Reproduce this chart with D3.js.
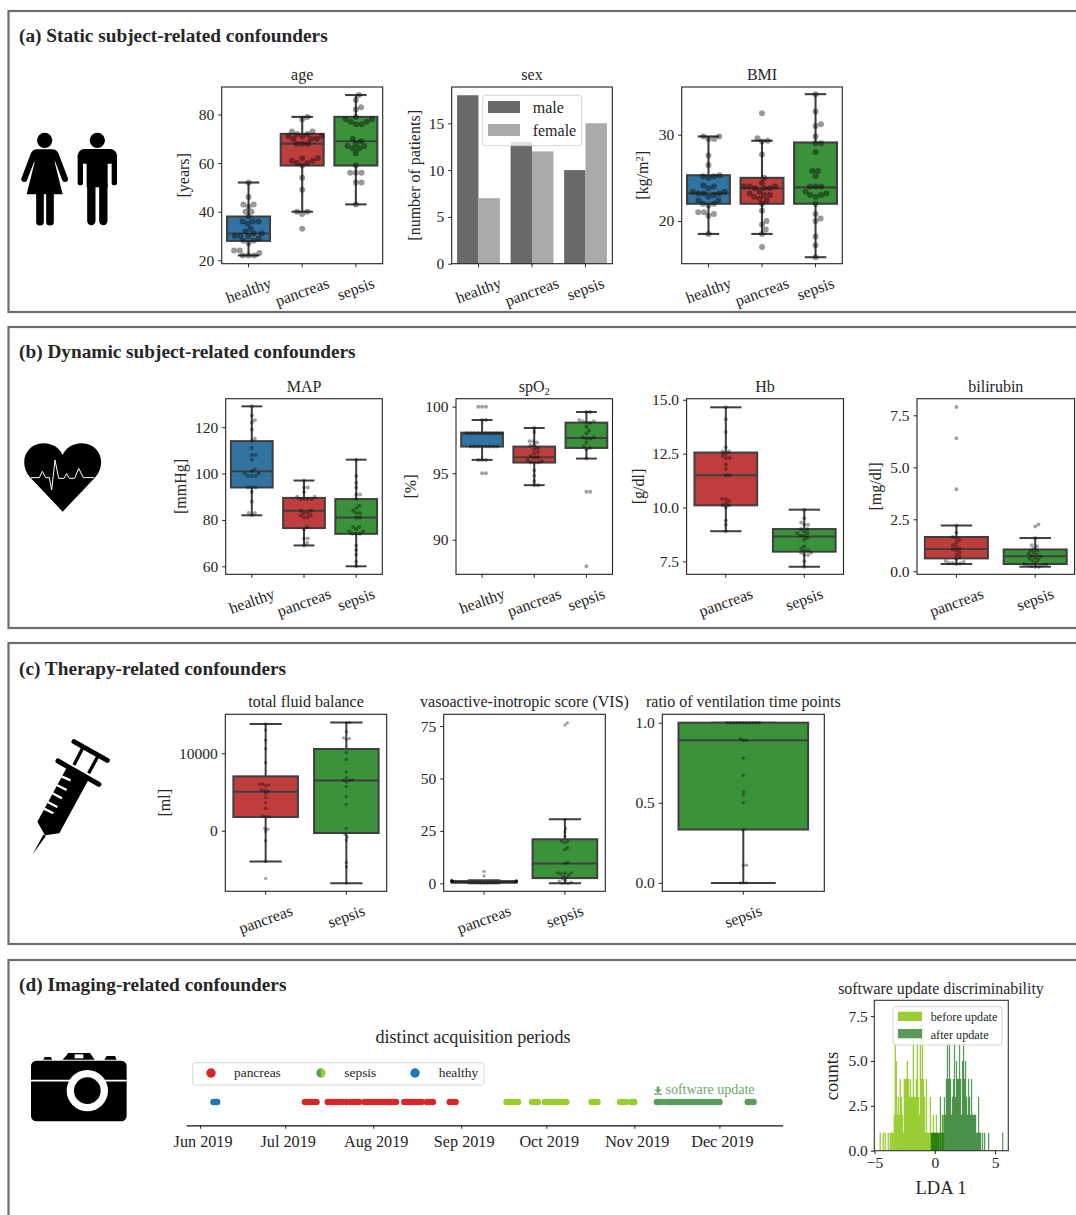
<!DOCTYPE html>
<html><head><meta charset="utf-8">
<script src="https://cdn.jsdelivr.net/npm/d3@7/dist/d3.min.js"></script>
<style>
html,body{margin:0;padding:0;background:#fff;overflow:hidden}
svg{display:block}
text{font-family:"Liberation Serif",serif;fill:#262626}
</style></head><body><svg id="c" width="1076" height="1215"></svg>
<script>
// ---------- categories ----------
const groups3 = ["healthy","pancreas","sepsis"];
const groups2 = ["pancreas","sepsis"];
const groups1 = ["sepsis"];
const groupFill = {healthy:"#3274a1",pancreas:"#c03d3e",sepsis:"#3a923a"};
const panelTitles = ["(a) Static subject-related confounders","(b) Dynamic subject-related confounders","(c) Therapy-related confounders","(d) Imaging-related confounders"];

// ---------- box stats: [whiskerLow, q1, median, q3, whiskerHigh] ----------
const ageBoxes = [[22,28,31,38,52],[40,59,68,72,79],[43,59,69,79,88]];
const bmiBoxes = [[18.5,22,23.2,25.3,29.8],[18.5,22,23.8,25,29.3],[15.8,22,23.9,29.1,34.7]];
const mapBoxes = [[82,94,101,114,129],[69,76.5,84,89.5,97],[60,74,81,89,106]];
const spo2Boxes = [[96,97,98,98.05,99],[94.1,95.8,96.2,97,98.4],[96.1,96.9,97.65,98.8,99.6]];
const hbBoxes = [[8.9,10.1,11.5,12.55,14.65],[7.25,7.95,8.65,9,9.9]];
const biliBoxes = [[0.35,0.62,1.07,1.65,2.2],[0.22,0.35,0.72,1.05,1.6]];
const fluidBoxes = [[-3970,1770,5040,7025,13790],[-6800,-300,6500,10560,13970]];
const visBoxes = [[0,0.3,0.7,1,1.5],[0,2.5,9.5,21,30.5]];
const ventBoxes = [[0,0.333,0.89,1,1]];

// ---------- individual patients ----------
const ageHealthy = [22,22,22,23,24,24,27,28,28,29,30,30,30,31,31,32,33,35,36,36,36,38,40,40,42,43,43,46,52];
const agePancreas = [33,39,40,40,49,54,59,60,60,61,61,62,62,68,68,68,70,70,70,71,71,71,72,72,73,73,78,79];
const ageSepsis = [43,52,52,56,56,56,59,64,66,66,67,67,68,69,70,76,76,77,77,78,78,79,82,83,86,88];
const bmiHealthy = [18.5,20.6,20.8,21,21,21.8,22,22,22.4,22.4,22.8,23,23.2,23.2,23.2,23.4,23.4,23.8,24,24.1,25,25.2,25.2,25.3,26.5,27.6,29.5,29.5,29.8,29.8];
const bmiPancreas = [17,18.5,19,19.6,20,21.2,22,22.4,22.6,22.8,23,23,23.2,23.4,23.8,23.8,23.8,24,24,24,24.4,25,27.7,29.2,29.3,29.6,32.5];
const bmiSepsis = [15.8,17.2,18.2,20,20.3,20.8,22,22.8,23,23,23.2,23.4,24,24,24,25.2,25.8,25.8,28,29,29,29.8,31,31.2,32.7,34.7];
const mapHealthy = [82,83,83,88,92,94,94,94,99,99,99,100,100,101,102,106,108,108,111,114,115,119,122,123,125,129];
const mapPancreas = [69,70,72,72,76,77,81,81,82,82,83,83,84,84,89,89,89,89,90,90,92,94,94,97];
const mapSepsis = [60,62,65,67,69,74,74,74,75,75,76,77,77,81,81,83,83,84,85,86,89,91,91,94,96,99,106];
const spo2Healthy = [95,95,96,96,96,97,97,97,97,97,97,97,97,98,98,98,98,98,98,98,98,98,98,99,99,100,100,100];
const spo2Pancreas = [94.1,94.1,94.4,94.8,95.2,95.8,95.8,95.8,95.9,96,96.2,96.2,96.3,96.5,96.6,96.8,96.9,97.1,97.1,97.3,97.4,97.4,98.1,98.4];
const spo2Sepsis = [88,93.6,93.6,96.1,96.8,96.9,97,97.3,97.6,97.6,97.7,97.7,98,98.2,98.5,98.8,98.8,98.9,98.9,99,99.6,99.6];
const hbPancreas = [8.9,9.2,9.4,10,10.1,10.1,10.2,10.3,10.4,10.4,11.5,11.5,11.8,12,12.3,12.3,12.4,12.5,12.6,12.6,12.8,13.5,14.1,14.65];
const hbSepsis = [7.25,7.5,7.8,7.8,7.9,7.9,8,8,8.1,8.2,8.5,8.6,8.7,8.7,8.8,8.8,8.9,9,9,9.2,9.2,9.3,9.5,9.9];
const biliPancreas = [0.35,0.38,0.4,0.4,0.45,0.5,0.6,0.7,0.8,0.9,1,1.05,1.1,1.2,1.25,1.4,1.5,1.6,1.65,1.85,2.2,3.95,6.4,7.9];
const biliSepsis = [0.22,0.22,0.25,0.3,0.3,0.33,0.35,0.4,0.5,0.55,0.6,0.65,0.7,0.75,0.8,0.85,0.9,1,1,1.1,1.2,1.25,1.6,2.15,2.25];
const fluidPancreas = [-6160,-3970,-1300,-100,200,300,1800,1800,1900,2900,3600,4300,4800,5100,5200,5300,5800,5900,6000,6000,8800,10600,11700,13000,13790];
const fluidSepsis = [-6800,-4650,-4100,-1200,-800,-500,300,3400,4400,5700,6300,6500,6500,6600,6800,7600,9200,10100,11800,11900,12000,12800,13970,13970];
const visPancreas = [0.2,0.3,0.3,0.4,0.4,0.4,0.5,0.5,0.5,0.6,0.6,0.6,0.6,0.7,0.7,0.7,0.7,0.8,0.8,0.8,0.9,0.9,1,1,1.1,1.2,1.3,1.5,3.5,5.7];
const visSepsis = [0,0,0,0.5,1,1.5,2,3,3.5,4,4.5,5,5,5,9.5,10,16,17,19.5,20,20,22.5,24.5,26,30.5,75.5,76.5];
const ventSepsis = [0,0,0,0.11,0.11,0.33,0.5,0.55,0.57,0.67,0.78,0.89,0.89,0.9,1,1,1,1,1,1,1,1,1,1,1];

// ---------- sex bars ----------
const maleCounts = [18,13,10];
const femaleCounts = [7,12,15];

// ---------- tick labels ----------
const ageTicks=[20,40,60,80], sexTicks=[0,5,10,15], bmiTicks=[20,30], mapTicks=[60,80,100,120],
      spo2Ticks=[90,95,100], hbTicks=[7.5,10,12.5,15], biliTicks=[0,2.5,5,7.5],
      fluidTicks=[0,10000], visTicks=[0,25,50,75], ventTicks=[0,0.5,1], histXTicks=[-5,0,5], histYTicks=[0,2.5,5,7.5];
const monthTicks = ["2019-06-01","2019-07-01","2019-08-01","2019-09-01","2019-10-01","2019-11-01","2019-12-01"];

// ---------- acquisition dates ----------
const healthyDates = ["06-05T18","06-06T12","06-07T00"];
const pancreasDates = ["07-08","07-09","07-10","07-11","07-12","07-16","07-17","07-18","07-19","07-20","07-21","07-22T12",
 "07-24","07-25","07-26","07-27","07-29","07-30","07-31","08-01","08-02","08-03","08-04","08-05","08-06","08-07","08-08","08-09",
 "08-12","08-13","08-14","08-15","08-16","08-17","08-18","08-20","08-21","08-22","08-28","08-29","08-30"];
const sepsisBeforeDates = ["09-17","09-18","09-19","09-20","09-21","09-26","09-27","09-28","09-30T12","10-01","10-02","10-03","10-04","10-05","10-06","10-07","10-08",
 "10-17","10-18","10-19","10-27","10-28","10-29","10-31","11-01"];
const sepsisAfterDates = ["11-09","11-10","11-11T12","11-13","11-14","11-15","11-16","11-17","11-18","11-19","11-20","11-21","11-22","11-23","11-24","11-25","11-26","11-27","11-28","11-29","11-30","12-01",
 "12-11","12-12","12-13"];

// ---------- LDA histogram counts (one bin per 1/12 LDA unit) ----------
const histBefore = [1,0,0,1,0,1,0,0,1,0,1,1,1,1,2,6,5,2,3,2,4,3,2,1,4,4,4,5,4,3,4,3,3,7,3,3,4,6,3,2,7,4,7,4,3,1,4,1,1,1,3,1,1,2,1,1,2,1,1,0,1,0,1,2,0];
const histBeforeStart = -55/12; // first bin edge
const histAfter = [1,1,1,1,1,1,1,1,1,3,1,2,1,3,2,4,6,4,6,4,2,3,4,6,3,5,4,4,6,4,2,5,6,4,5,3,2,4,3,2,4,2,2,2,2,1,1,3,1,1,0,1,0,1,0,0,0,1,0,0,0,0,0,0,0,0,0,0,0,0,0,1];
const histAfterStart = -4/12; // first bin edge
const histBinWidth = 1/12;

// ---------- drawing ----------
const svg = d3.select("#c");
const DARK = "#3f3f3f";
const panelTops = [11,327,643,960], panelH = [301,301,301,400], titleY=[42,358,675,991];
panelTitles.forEach((t,i)=>{
  svg.append("rect").attr("x",8.5).attr("y",panelTops[i]).attr("width",1200).attr("height",panelH[i])
     .attr("fill","#fff").attr("stroke","#6e6e6e").attr("stroke-width",2.2);
  svg.append("text").attr("x",19).attr("y",titleY[i]).attr("font-size",19.3).attr("font-weight","bold").attr("fill","#1a1a1a").text(t);
});

function swarm(values, r, limit){
  const placed=[]; const d=2*r*0.95;
  values.slice().sort((a,b)=>a.v-b.v).forEach(p=>{
    const near=placed.filter(q=>Math.abs(q.py-p.py)<d);
    const cand=[0];
    near.forEach(q=>{const dx=Math.sqrt(d*d-(q.py-p.py)**2);cand.push(q.dx+dx+0.01,q.dx-dx-0.01);});
    cand.sort((a,b)=>Math.abs(a)-Math.abs(b));
    const best=cand.find(c=>near.every(q=>(q.dx-c)**2+(q.py-p.py)**2>=d*d-0.001));
    const dx=best===undefined?0:Math.max(-limit,Math.min(limit,best));
    placed.push({v:p.v,py:p.py,dx});
  });
  return placed;
}

function frame(p, cats, domain, ticks, fmt){
  const x=d3.scaleBand().domain(cats).range([p.x0,p.x1]);
  const y=d3.scaleLinear().domain(domain).range([p.y1,p.y0]);
  const g=svg.append("g");
  g.append("text").attr("x",(p.x0+p.x1)/2).attr("y",p.y0-7).attr("text-anchor","middle").attr("font-size",16).html(p.title);
  return {x,y,g,finish(){
    const ax=g.append("g").attr("transform",`translate(0,${p.y1})`).call(d3.axisBottom(x).tickSize(3.5).tickSizeOuter(0));
    const ay=g.append("g").attr("transform",`translate(${p.x0},0)`).call(d3.axisLeft(y).tickValues(ticks).tickFormat(fmt).tickSize(3.5).tickPadding(4).tickSizeOuter(0));
    [ax,ay].forEach(a=>{a.attr("font-family",null).attr("font-size",null);a.select(".domain").remove();a.selectAll("line").attr("stroke","#262626").attr("stroke-width",1);a.selectAll("text").attr("font-size",15.5).attr("fill","#262626");});
    const ang=20*Math.PI/180;
    ax.selectAll("text").attr("font-size",16).each(function(){
      const w=this.getComputedTextLength();
      const rh=w*Math.sin(ang)+16*0.95*Math.cos(ang);
      d3.select(this).attr("y",0).attr("dy","0.33em").attr("text-anchor","middle")
        .attr("transform",`translate(0,${11.5+rh/2}) rotate(-20)`);
    });
    g.append("rect").attr("x",p.x0).attr("y",p.y0).attr("width",p.x1-p.x0).attr("height",p.y1-p.y0).attr("fill","none").attr("stroke","#222").attr("stroke-width",1.1);
    g.append("text").attr("transform",`translate(${p.lx},${(p.y0+p.y1)/2}) rotate(-90)`).attr("text-anchor","middle").attr("font-size",16).html(p.ylabel);
  }};
}

function boxPlot(p, cats, domain, ticks, fmt, boxes, pts, r, lw, op){
  const f=frame(p,cats,domain,ticks,fmt); const {x,y,g}=f;
  const bw=x.bandwidth()*0.8;
  cats.forEach((c,i)=>{
    const [lo,q1,med,q3,hi]=boxes[i]; const cx=x(c)+x.bandwidth()/2;
    const line=(x1,y1,x2,y2)=>g.append("line").attr("x1",x1).attr("y1",y1).attr("x2",x2).attr("y2",y2).attr("stroke",DARK).attr("stroke-width",lw);
    line(cx,y(q3),cx,y(hi)); line(cx,y(q1),cx,y(lo));
    line(cx-bw/4,y(hi),cx+bw/4,y(hi)); line(cx-bw/4,y(lo),cx+bw/4,y(lo));
    g.append("rect").attr("x",cx-bw/2).attr("y",y(q3)).attr("width",bw).attr("height",y(q1)-y(q3)).attr("fill",groupFill[c]).attr("stroke",DARK).attr("stroke-width",lw);
    line(cx-bw/2,y(med),cx+bw/2,y(med));
    const s=swarm(pts[i].map(v=>({v,py:y(v)})),r,bw/2);
    g.selectAll(null).data(s).enter().append("circle").attr("cx",d=>cx+d.dx).attr("cy",d=>y(d.v)).attr("r",r).attr("fill","#000").attr("fill-opacity",op);
  });
  f.finish();
}

const f0=d3.format("d"), f1=d3.format(".1f");
const sup2='<tspan dy="-5" font-size="10.5">2</tspan><tspan dy="5">]</tspan>';
boxPlot({x0:221.7,x1:382.7,y0:87,y1:263.7,title:"age",ylabel:"[years]",lx:189},groups3,[18.6,91.3],ageTicks,f0,ageBoxes,[ageHealthy,agePancreas,ageSepsis],3,2.1,0.4);
boxPlot({x0:681.7,x1:842.3,y0:87,y1:263.7,title:"BMI",ylabel:"[kg/m"+sup2,lx:648},groups3,[15.05,35.53],bmiTicks,f0,bmiBoxes,[bmiHealthy,bmiPancreas,bmiSepsis],3,2.1,0.4);
boxPlot({x0:225.7,x1:382.3,y0:398.7,y1:574.3,title:"MAP",ylabel:"[mmHg]",lx:186},groups3,[56.55,132.3],mapTicks,f0,mapBoxes,[mapHealthy,mapPancreas,mapSepsis],2,2,0.36);
boxPlot({x0:456,x1:612.5,y0:398.7,y1:574.3,title:'spO<tspan dy="3" font-size="10.5">2</tspan>',ylabel:"[%]",lx:416},groups3,[87.4,100.6],spo2Ticks,f0,spo2Boxes,[spo2Healthy,spo2Pancreas,spo2Sepsis],2,2,0.36);
boxPlot({x0:686.6,x1:843.5,y0:398.7,y1:574.3,title:"Hb",ylabel:"[g/dl]",lx:644},groups2,[6.9,15.05],hbTicks,f1,hbBoxes,[hbPancreas,hbSepsis],2,2,0.36);
boxPlot({x0:917,x1:1074.6,y0:398.7,y1:574.3,title:"bilirubin",ylabel:"[mg/dl]",lx:881},groups2,[-0.144,8.3],biliTicks,f1,biliBoxes,[biliPancreas,biliSepsis],2,2,0.36);
boxPlot({x0:225.3,x1:386.7,y0:714.3,y1:891.3,title:"total fluid balance",ylabel:"[ml]",lx:170},groups2,[-7830,15040],fluidTicks,f0,fluidBoxes,[fluidPancreas,fluidSepsis],1.7,2,0.36);
boxPlot({x0:443.7,x1:605.3,y0:714.3,y1:891.3,title:"vasoactive-inotropic score (VIS)",ylabel:"",lx:420},groups2,[-3.8,80.6],visTicks,f0,visBoxes,[visPancreas,visSepsis],1.7,2,0.36);
boxPlot({x0:662.3,x1:824.3,y0:714.3,y1:891.3,title:"ratio of ventilation time points",ylabel:"",lx:640},groups1,[-0.0523,1.0523],ventTicks,f1,ventBoxes,[ventSepsis],1.7,2,0.36);

// sex bar chart
(function(){
  const p={x0:451.7,x1:612.3,y0:87,y1:263.7,title:"sex",ylabel:"[number of patients]",lx:420};
  const f=frame(p,groups3,[0,18.88],sexTicks,f0);
  const {x,y,g}=f, bw=x.bandwidth()*0.4;
  groups3.forEach((c,i)=>{
    const cx=x(c)+x.bandwidth()/2;
    g.append("rect").attr("x",cx-bw).attr("y",y(maleCounts[i])).attr("width",bw).attr("height",y(0)-y(maleCounts[i])).attr("fill","#696969");
    g.append("rect").attr("x",cx).attr("y",y(femaleCounts[i])).attr("width",bw).attr("height",y(0)-y(femaleCounts[i])).attr("fill","#a9a9a9");
  });
  g.append("rect").attr("x",482.7).attr("y",95.3).attr("width",99).attr("height",50.4).attr("rx",2.5).attr("fill","#fff").attr("fill-opacity",0.8).attr("stroke","#ccc").attr("stroke-opacity",0.8);
  [["male","#696969",101,113],["female","#a9a9a9",124,136]].forEach(([t,c,py,by])=>{
    g.append("rect").attr("x",488).attr("y",py).attr("width",32).attr("height",12).attr("fill",c);
    g.append("text").attr("x",532.7).attr("y",by).attr("font-size",16).text(t);
  });
  f.finish();
})();

// timeline
(function(){
  const parse=s=>new Date(`2019-${s.length>5?s+":00":s+"T00:00"}:00Z`);
  const t=d3.scaleUtc().domain([Date.UTC(2019,4,27,1),Date.UTC(2019,11,23,7)]).range([186,782.7]);
  const yDots=1102;
  svg.append("text").attr("x",473).attr("y",1043).attr("text-anchor","middle").attr("font-size",18.1).text("distinct acquisition periods");
  svg.append("rect").attr("x",192.7).attr("y",1062.7).attr("width",291.3).attr("height",22.3).attr("rx",2.5).attr("fill","#fff").attr("stroke","#ccc").attr("stroke-opacity",.8);
  const ly=1073;
  svg.append("circle").attr("cx",211).attr("cy",ly).attr("r",4.7).attr("fill","#d62728");
  svg.append("path").attr("transform",`translate(321,${ly})`).attr("d",d3.arc()({innerRadius:0,outerRadius:4.7,startAngle:Math.PI,endAngle:2*Math.PI})).attr("fill","#5b9b5b");
  svg.append("path").attr("transform",`translate(321,${ly})`).attr("d",d3.arc()({innerRadius:0,outerRadius:4.7,startAngle:0,endAngle:Math.PI})).attr("fill","#9acd32");
  svg.append("circle").attr("cx",415).attr("cy",ly).attr("r",4.7).attr("fill","#1f77b4");
  [["pancreas",234],["sepsis",344.3],["healthy",438.7]].forEach(([s,lx])=>svg.append("text").attr("x",lx).attr("y",ly+4).attr("font-size",13.4).text(s));
  [[healthyDates,"#1f77b4"],[pancreasDates,"#d62728"],[sepsisBeforeDates,"#9acd32"],[sepsisAfterDates,"#5b9b5b"]].forEach(([ds,c])=>{
    svg.append("g").selectAll("circle").data(ds).enter().append("circle").attr("cx",d=>t(parse(d))).attr("cy",yDots).attr("r",3.3).attr("fill",c);
  });
  const a=svg.append("g").attr("transform","translate(0,1125.3)").call(d3.axisBottom(t).tickValues(monthTicks.map(s=>new Date(s+"T00:00:00Z"))).tickFormat(d3.utcFormat("%b %Y")).tickSize(3.5).tickPadding(7).tickSizeOuter(0));
  a.attr("font-family",null).attr("font-size",null);
  a.select(".domain").attr("stroke","#111").attr("stroke-width",1.2);
  a.selectAll("line").attr("stroke","#262626");
  a.selectAll("text").attr("font-size",16.2).attr("fill","#262626").attr("dx",2.5);
  // software update annotation
  const ic=svg.append("g").attr("transform","translate(654,1086)").attr("fill","#6aa96a");
  ic.append("path").attr("d","M2.7,0.5H5.3V3.5H7.6L4,7.2L0.4,3.5H2.7Z");
  ic.append("path").attr("d","M0,7.4H8V8.8H0Z");
  svg.append("text").attr("x",665.5).attr("y",1094).attr("font-size",14).style("fill","#6aa96a").text("software update");
})();

// histogram
(function(){
  const x=d3.scaleLinear().domain([-5.02,6.1]).range([874.3,1008.3]);
  const y=d3.scaleLinear().domain([0,8.38]).range([1150.7,1000.3]);
  const g=svg.append("g");
  g.append("text").attr("x",941).attr("y",994).attr("text-anchor","middle").attr("font-size",15.9).text("software update discriminability");
  const bars=(arr,start,fill,op,grow)=>g.append("g").selectAll("rect").data(arr.map((c,i)=>({c,i})).filter(d=>d.c>0)).enter().append("rect")
    .attr("x",d=>x(start+d.i*histBinWidth)).attr("width",(x(histBinWidth)-x(0))*grow).attr("y",d=>y(d.c)).attr("height",d=>y(0)-y(d.c)).attr("fill",fill).attr("fill-opacity",op);
  bars(histBefore,histBeforeStart,"#9acd32",1,1.3);
  bars(histAfter,histAfterStart,"#006400",0.65,1.25);
  g.append("rect").attr("x",893).attr("y",1006.7).attr("width",109).attr("height",38.3).attr("rx",2.5).attr("fill","#fff").attr("fill-opacity",.8).attr("stroke","#ccc").attr("stroke-opacity",.8);
  [["before update","#9acd32",1011.7,1020.5],["after update","#599a59",1029,1038.5]].forEach(([t,c,py,by])=>{
    g.append("rect").attr("x",898).attr("y",py).attr("width",24).attr("height",9.3).attr("fill",c);
    g.append("text").attr("x",930.7).attr("y",by).attr("font-size",12.2).text(t);
  });
  const ax=g.append("g").attr("transform","translate(0,1150.7)").call(d3.axisBottom(x).tickValues(histXTicks).tickFormat(d=>d<0?"\u2212"+(-d):""+d).tickSize(3.5).tickPadding(3).tickSizeOuter(0));
  const ay=g.append("g").attr("transform","translate(874.3,0)").call(d3.axisLeft(y).tickValues(histYTicks).tickFormat(f1).tickSize(3.5).tickPadding(3).tickSizeOuter(0));
  [ax,ay].forEach(a=>{a.attr("font-family",null).attr("font-size",null);a.select(".domain").remove();a.selectAll("line").attr("stroke","#262626");a.selectAll("text").attr("font-size",15.5).attr("fill","#262626");});
  g.append("rect").attr("x",874.3).attr("y",1000.3).attr("width",134).attr("height",150.4).attr("fill","none").attr("stroke","#333").attr("stroke-width",1.1);
  g.append("text").attr("x",941).attr("y",1194).attr("text-anchor","middle").attr("font-size",18.5).text("LDA 1");
  g.append("text").attr("transform","translate(838,1076) rotate(-90)").attr("text-anchor","middle").attr("font-size",18.5).text("counts");
})();

// ---------- icons ----------
const ink=(g)=>({line:(a,b,c,d,w,col="#000",cap="round")=>g.append("line").attr("x1",a).attr("y1",b).attr("x2",c).attr("y2",d).attr("stroke",col).attr("stroke-width",w).attr("stroke-linecap",cap),
  path:(d,col="#000")=>g.append("path").attr("d",d).attr("fill",col),
  circ:(a,b,r,col="#000")=>g.append("circle").attr("cx",a).attr("cy",b).attr("r",r).attr("fill",col),
  rect:(a,b,w,h,r,col="#000")=>g.append("rect").attr("x",a).attr("y",b).attr("width",w).attr("height",h).attr("rx",r).attr("fill",col)});
// people
(function(){
  const g=svg.append("g").attr("transform","scale(0.3333)"), k=ink(g);
  k.circ(134,421,23);
  k.line(100,466,73,537,18); k.line(168,466,195,537,18);
  k.rect(92,448,84,40,18);
  k.line(109,480,82,558,5,"#fff","butt"); k.line(159,480,186,558,5,"#fff","butt");
  k.path("M108,470H160L188,583H80Z");
  k.line(120,583,120,665,23); k.line(150,583,150,665,23);
  k.circ(292,421,23);
  k.rect(233,447,118,44,20);
  k.line(241,470,241,548,16); k.line(343,470,343,548,16);
  k.rect(260,447,63,115,0);
  k.line(274,556,274,663,25); k.line(310,556,310,663,25);
})();
// heart
(function(){
  const g=svg.append("g").attr("transform","translate(0,370) scale(0.3333)"), k=ink(g);
  k.path("M188,425L90,322C55,280 75,222 130,220C160,220 178,235 188,255C198,235 216,220 246,220C301,222 321,280 286,322Z");
  g.append("path").attr("d","M93,323H118L127,304L137,323H148L155,360L165,270L176,325H192L200,311L208,325H224L236,295L250,323H283").attr("fill","none").attr("stroke","#fff").attr("stroke-width",3);
})();
// syringe
(function(){
  const g=svg.append("g").attr("transform","translate(0,690) scale(0.3333)"), k=ink(g);
  k.line(222,155,322,211,15);
  k.line(247,176,222,225,10,"#000","butt"); k.line(292,202,266,250,10,"#000","butt");
  k.line(174,213,297,283,15);
  k.path("M200,233L265,270L178,430L135,436L112,395Z");
  k.path("M130,434L138,437L97,494Z");
  [[184,259,212,271],[170,285,200,300],[157,310,186,325],[143,336,172,351],[132,356,160,370]].forEach(a=>k.line(a[0],a[1],a[2],a[3],7,"#fff","butt"));
})();
// camera
(function(){
  const g=svg.append("g").attr("transform","translate(0,1020) scale(0.3333)"), k=ink(g);
  k.rect(93,122,287,182,16);
  k.path("M130,119L134,111H153L156,119Z"); k.path("M188,119L205,99H270L284,119Z"); k.path("M313,119L320,108H345L350,119Z");
  k.rect(224,103,26,12,0,"#fff");
  k.line(93,182,380,182,5,"#fff","butt");
  k.circ(262,212,62,"#fff"); k.circ(262,212,40);
})();
</script></body></html>
